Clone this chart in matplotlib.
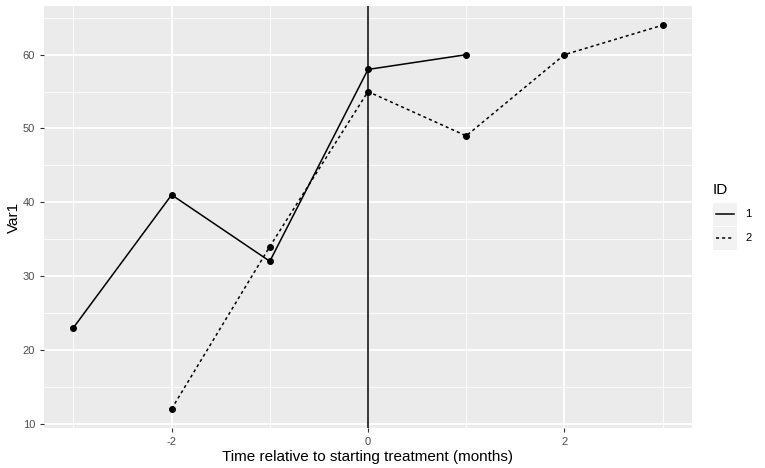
import matplotlib.pyplot as plt
from matplotlib.lines import Line2D
from matplotlib.patches import Rectangle

plt.rcParams['font.family'] = ['Liberation Sans', 'DejaVu Sans']
plt.rcParams['axes.unicode_minus'] = False

# data for each ID
time_1 = [-3, -2, -1, 0, 1]
var1_1 = [23, 41, 32, 58, 60]
time_2 = [-2, -1, 0, 1, 2, 3]
var1_2 = [12, 34, 55, 49, 60, 64]

x_ticks = [-2, 0, 2]
y_ticks = [10, 20, 30, 40, 50, 60]

fig = plt.figure(figsize=(7.65, 4.68), dpi=100)
ax = fig.add_axes([44 / 765, 40 / 468, 648 / 765, 422 / 468])
ax.set_facecolor('#EBEBEB')

# grid lines like ggplot theme_grey
for x in [-3, -1, 1, 3]:
    ax.axvline(x, color='white', lw=0.6, zorder=0)
for x in x_ticks:
    ax.axvline(x, color='white', lw=1.3, zorder=0)
for y in [15, 25, 35, 45, 55, 65]:
    ax.axhline(y, color='white', lw=0.6, zorder=0)
for y in y_ticks:
    ax.axhline(y, color='white', lw=1.3, zorder=0)

ax.plot(time_1, var1_1, color='black', lw=1.1, ls='-', zorder=2)
ax.plot(time_2, var1_2, color='black', lw=1.1, ls=(0, (2, 2)), zorder=2)
ax.scatter(time_1 + time_2, var1_1 + var1_2, color='black', s=16, zorder=3)

ax.axvline(0, color='black', lw=1.1, zorder=2)

ax.set_xlim(-3.3, 3.3)
ax.set_ylim(9.4, 66.6)
ax.set_xticks(x_ticks)
ax.set_yticks(y_ticks)
ax.tick_params(colors='#333333', labelcolor='#4D4D4D', labelsize=8, length=3, width=0.8)
for s in ax.spines.values():
    s.set_visible(False)

ax.set_xlabel('Time relative to starting treatment (months)', fontsize=11, labelpad=2)
ax.set_ylabel('Var1', fontsize=11, labelpad=1)

# legend drawn in figure coords like ggplot guide
fig.text(713 / 765, 1 - 190 / 468, 'ID', fontsize=11, va='center', ha='left')
for i, (lab, ls) in enumerate([('1', '-'), ('2', (0, (2, 2)))]):
    top = 203 + i * 24
    fig.patches.append(Rectangle((713 / 765, 1 - (top + 23) / 468), 24 / 765, 23 / 468,
                                 transform=fig.transFigure, facecolor='#F2F2F2',
                                 edgecolor='none'))
    yc = 1 - (top + 11.5) / 468
    fig.lines.append(Line2D([716 / 765, 734 / 765], [yc, yc], transform=fig.transFigure,
                            color='black', lw=1.1, ls=ls))
    fig.text(745 / 765, yc, lab, fontsize=8, va='center', ha='left', color='black')

fig.savefig('out.png', dpi=100)
